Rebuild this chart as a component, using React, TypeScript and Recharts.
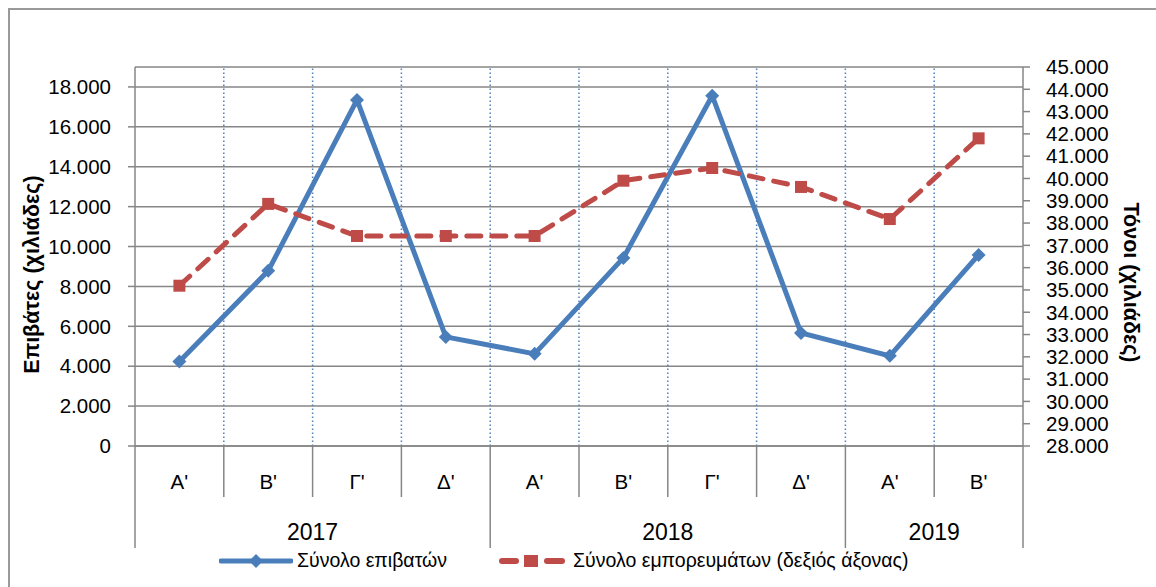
import { LineChart, Line, XAxis, YAxis, CartesianGrid, ReferenceLine, Legend, Label } from 'recharts'

const quarters = ["Α'", "Β'", "Γ'", "Δ'", "Α'", "Β'", "Γ'", "Δ'", "Α'", "Β'"]
const years = ['2017', '2018', '2019']
const quartersPerYear = [4, 4, 2]
const passengers = [4230, 8780, 17350, 5470, 4620, 9430, 17560, 5670, 4520, 9580]
const tonnes = [35190, 38860, 37420, 37420, 37420, 39900, 40470, 39620, 38180, 41800]
const leftTicks = [0, 2000, 4000, 6000, 8000, 10000, 12000, 14000, 16000, 18000]
const rightTicks = [
  28000, 29000, 30000, 31000, 32000, 33000, 34000, 35000, 36000,
  37000, 38000, 39000, 40000, 41000, 42000, 43000, 44000, 45000,
]

const BLUE = '#4a7ebb'
const RED = '#be4b48'
const GRID = '#868686'
const FONT = '"Liberation Sans", Arial, sans-serif'

const data = quarters.map((q, i) => ({
  slot: i + 0.5,
  quarter: q,
  passengers: passengers[i],
  tonnes: tonnes[i],
}))

// year spans in slot units
const yearSpans = years.map((year, i) => {
  const start = quartersPerYear.slice(0, i).reduce((a, b) => a + b, 0)
  return { year, start, end: start + quartersPerYear[i] }
})
const yearEdges = [0, ...yearSpans.map((s) => s.end)]
const xTicks = Array.from({ length: quarters.length * 2 + 1 }, (_, k) => k / 2)
const boundaries = xTicks.filter((v) => Number.isInteger(v) && v > 0 && v < quarters.length)

const fmt = (n: number) => String(n).replace(/\B(?=(\d{3})+(?!\d))/g, '.')

const CategoryTick = ({ x, y, payload }: any) => {
  const v = payload.value
  const yr = yearSpans.find((s) => (s.start + s.end) / 2 === v)
  const isEdge = Number.isInteger(v)
  return (
    <g>
      {isEdge && (
        <line
          x1={x}
          x2={x}
          y1={y}
          y2={y + (yearEdges.includes(v) ? 102 : 51)}
          stroke={GRID}
          strokeWidth={1.5}
        />
      )}
      {!isEdge && (
        <text x={x} y={y + 43} textAnchor="middle" fontFamily={FONT} fontSize={20.5} fill="#000">
          {quarters[Math.floor(v)]}
        </text>
      )}
      {yr && (
        <text x={x} y={y + 94} textAnchor="middle" fontFamily={FONT} fontSize={23} fill="#000">
          {yr.year}
        </text>
      )}
    </g>
  )
}

const Diamond = ({ cx, cy }: any) => {
  if (cx == null || cy == null) return null
  const r = 7
  return <polygon points={`${cx},${cy - r} ${cx + r},${cy} ${cx},${cy + r} ${cx - r},${cy}`} fill={BLUE} />
}

const Square = ({ cx, cy }: any) => {
  if (cx == null || cy == null) return null
  const r = 6
  return <rect x={cx - r} y={cy - r} width={r * 2} height={r * 2} fill={RED} />
}

const renderLegend = () => (
  <div style={{ display: 'flex', alignItems: 'center', fontFamily: FONT, fontSize: 19.5, color: '#000' }}>
    <svg width={74} height={16}>
      <line x1={2} x2={72} y1={8} y2={8} stroke={BLUE} strokeWidth={5} strokeLinecap="round" />
      <polygon points="37,1 44,8 37,15 30,8" fill={BLUE} />
    </svg>
    <span style={{ marginLeft: 4 }}>Σύνολο επιβατών</span>
    <svg width={66} height={16} style={{ marginLeft: 52 }}>
      <line x1={3} x2={17} y1={8} y2={8} stroke={RED} strokeWidth={6} strokeLinecap="round" />
      <rect x={25} y={2} width={14} height={12} fill={RED} />
      <line x1={48} x2={63} y1={8} y2={8} stroke={RED} strokeWidth={6} strokeLinecap="round" />
    </svg>
    <span style={{ marginLeft: 8 }}>Σύνολο εμπορευμάτων (δεξιός άξονας)</span>
  </div>
)

export default function App() {
  return (
    <div style={{ position: 'fixed', left: 0, top: 0, width: 1156, height: 587, overflow: 'hidden', background: '#fff' }}>
      <div
        style={{
          position: 'absolute',
          left: 8,
          top: 8,
          width: 1200,
          height: 640,
          border: '2px solid #9a9a9a',
        }}
      />
      <LineChart
        width={1156}
        height={587}
        data={data}
        margin={{ top: 67, right: 0, bottom: 0, left: 0 }}
        style={{ position: 'absolute', left: 0, top: 0 }}
      >
        <CartesianGrid yAxisId="left" vertical={false} stroke={GRID} strokeWidth={1.5} />
        <XAxis
          dataKey="slot"
          type="number"
          domain={[0, quarters.length]}
          ticks={xTicks}
          interval={0}
          height={141}
          tickSize={0}
          tickMargin={0}
          tickLine={false}
          axisLine={{ stroke: GRID, strokeWidth: 1.5 }}
          tick={<CategoryTick />}
        />
        <YAxis
          yAxisId="left"
          width={135}
          domain={[0, 19000]}
          ticks={leftTicks}
          interval={0}
          tickFormatter={fmt}
          tickSize={7}
          tickMargin={17}
          axisLine={{ stroke: GRID, strokeWidth: 1.5 }}
          tickLine={{ stroke: GRID, strokeWidth: 1.5 }}
          tick={{ fill: '#000', fontSize: 20.5, fontFamily: FONT }}
        >
          <Label
            content={({ viewBox }: any) => (
              <text
                transform={`translate(${viewBox.x + 32}, ${viewBox.y + viewBox.height / 2 + 18}) rotate(-90)`}
                textAnchor="middle"
                dominantBaseline="central"
                fontFamily={FONT}
                fontWeight="bold"
                fontSize={21.5}
                fill="#000"
              >
                Επιβάτες  (χιλιάδες)
              </text>
            )}
          />
        </YAxis>
        <YAxis
          yAxisId="right"
          orientation="right"
          width={133}
          domain={[28000, 45000]}
          ticks={rightTicks}
          interval={0}
          tickFormatter={fmt}
          tickSize={7}
          tickMargin={16}
          axisLine={{ stroke: GRID, strokeWidth: 1.5 }}
          tickLine={{ stroke: GRID, strokeWidth: 1.5 }}
          tick={{ fill: '#000', fontSize: 20.5, fontFamily: FONT, textAnchor: 'start' }}
        >
          <Label
            content={({ viewBox }: any) => (
              <text
                transform={`translate(${viewBox.x + 108}, ${viewBox.y + viewBox.height / 2 + 26}) rotate(90)`}
                textAnchor="middle"
                dominantBaseline="central"
                fontFamily={FONT}
                fontWeight="bold"
                fontSize={21.5}
                fill="#000"
              >
                Τόνοι  (χιλιάδες)
              </text>
            )}
          />
        </YAxis>
        {boundaries.map((b) => (
          <ReferenceLine
            key={b}
            x={b}
            yAxisId="left"
            stroke="#4f81bd"
            strokeWidth={1.5}
            strokeDasharray="1.5 2.5"
          />
        ))}
        <Line
          yAxisId="left"
          dataKey="passengers"
          stroke={BLUE}
          strokeWidth={5}
          dot={<Diamond />}
          activeDot={false}
          isAnimationActive={false}
        />
        <Line
          yAxisId="right"
          dataKey="tonnes"
          stroke={RED}
          strokeWidth={5}
          strokeDasharray="14 11"
          strokeLinecap="round"
          dot={<Square />}
          activeDot={false}
          isAnimationActive={false}
        />
        <Legend
          layout="horizontal"
          verticalAlign="middle"
          align="center"
          wrapperStyle={{ top: 549, left: 219, width: 'auto' }}
          content={renderLegend}
        />
      </LineChart>
    </div>
  )
}
